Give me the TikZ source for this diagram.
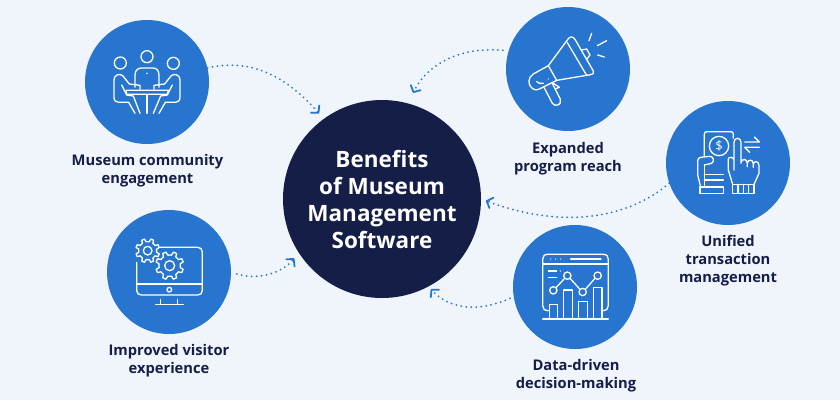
\documentclass[tikz,border=0pt]{standalone}
\usepackage{fontspec}
\setmainfont{Open Sans}
\usetikzlibrary{arrows.meta}
\definecolor{bgc}{HTML}{F0F5FC}
\definecolor{bluec}{HTML}{2775CE}
\definecolor{navyc}{HTML}{141E47}
\tikzset{
  disc/.style={circle,fill=bluec,minimum size=124pt,inner sep=0pt},
  hubdisc/.style={circle,fill=navyc,minimum size=198pt,inner sep=0pt,text=white,align=center,font=\bfseries\fontsize{22.5}{27}\selectfont},
  lab/.style={text=navyc,align=center,inner sep=0pt,font=\bfseries\fontsize{14.7}{18.3}\selectfont},
  flow/.style={draw=bluec,line width=2pt,line cap=round,dash pattern=on 0pt off 5pt,
    -{Straight Barb[length=5pt,width=11pt,line width=1.8pt,round=false]}},
  ico/.style={draw=white,line width=1.3pt,line cap=round,line join=round},
  zoomed/.style={x=0.3333pt,y=-0.3333pt}
}
\newcommand{\icogear}[5]{% x y outer inner teeth
  \begin{scope}[shift={(#1,#2)}]
    \pgfmathsetmacro{\gstep}{360/#5}
    \path[ico,fill=bluec] (0:#4)
      \foreach \gi in {1,...,#5}{
        -- ({(\gi-1)*\gstep+0.22*\gstep}:#4)
        -- ({(\gi-1)*\gstep+0.34*\gstep}:#3)
        -- ({(\gi-1)*\gstep+0.66*\gstep}:#3)
        -- ({(\gi-1)*\gstep+0.78*\gstep}:#4)
        -- ({\gi*\gstep}:#4)
      } -- cycle;
  \end{scope}
}
\begin{document}
\begin{tikzpicture}[x=1pt,y=-1pt]
\useasboundingbox (0,0) rectangle (840,400);
\fill[bgc] (0,0) rectangle (840,400);

\node[disc] (community) at (147,82) {};
\node[disc] (visitor) at (169,272) {};
\node[disc] (reach) at (568,69) {};
\node[disc] (transaction) at (728,163) {};
\node[disc] (data) at (575,287) {};
\node[hubdisc] (hub) at (382,199) {Benefits\\of Museum\\Management\\Software};

\node[lab] (lcommunity) at (147.5,170.5) {Museum community\\engagement};
\node[lab] (lvisitor) at (169,361) {Improved visitor\\experience};
\node[lab] (lreach) at (568,159) {Expanded\\program reach};
\node[lab] (ltransaction) at (728,260.5) {Unified\\transaction\\management};
\node[lab] (ldata) at (576,376) {Data-driven\\decision-making};

\draw[flow,shorten >=7pt] (community.13) .. controls (250,58) and (285,75) .. (hub.126.5);
\draw[flow,shorten <=6pt,shorten >=7pt] (visitor.0) .. controls (255,280) and (280,275) .. (hub.213.8);
\draw[flow,shorten <=5.7pt,shorten >=11.6pt] (reach.163.7) .. controls (465,47) and (430,60) .. (hub.75.3);
\draw[flow,shorten >=5pt] (transaction.199.6) .. controls (620,225) and (550,225) .. (hub.0);
\draw[flow,shorten <=4pt,shorten >=3.4pt] (data.189.6) .. controls (480,312) and (450,310) .. (hub.-62.7);

% community icon
\begin{scope}[shift={(70,10)},zoomed]
  \draw[ico] (231,140) circle (18) (151,159) circle (18) (310,160) circle (18);
  \draw[ico] (195,232) -- (195,195) .. controls (195,180) and (205,174) .. (215,174) -- (248,174) .. controls (258,174) and (267,180) .. (267,195) -- (267,232);
  \fill[white] (231,190) circle (2.5);
  \draw[ico] (168,241) -- (295,241) (170,253) -- (292,253) (168,241) -- (170,253) (295,241) -- (292,253);
  \draw[ico] (231,255) -- (231,310);
  \draw[ico] (210,238) -- (210,226) -- (178,222) -- (158,197) .. controls (150,190) and (132,192) .. (132,212) -- (132,262) .. controls (132,272) and (138,277) .. (146,277) -- (176,277) -- (195,310);
  \draw[ico] (155,225) -- (170,255) -- (190,258) -- (210,310);
  \draw[ico] (252,238) -- (252,226) -- (284,222) -- (304,197) .. controls (312,190) and (330,192) .. (330,212) -- (330,262) .. controls (330,272) and (324,277) .. (316,277) -- (286,277) -- (267,310);
  \draw[ico] (307,225) -- (292,255) -- (272,258) -- (250,310);
\end{scope}

% visitor icon
\begin{scope}[shift={(95,205)},zoomed]
  \draw[ico] (195,127) -- (308,127) .. controls (317,127) and (322,132) .. (322,141) -- (322,256) .. controls (322,265) and (317,270) .. (308,270) -- (139,270) .. controls (130,270) and (125,265) .. (125,256) -- (125,172);
  \draw[ico] (125,237) -- (322,237);
  \draw[ico] (223,254) circle (7);
  \draw[ico] (197,283) -- (197,298) (248,283) -- (248,298) (182,299) -- (265,299);
  \icogear{158}{137}{36}{27}{8}
  \draw[ico] (158,137) circle (13);
  \icogear{224}{182}{42}{32}{8}
  \draw[ico] (224,182) circle (15);
\end{scope}

% reach icon
\begin{scope}[shift={(495,0)},zoomed]
  \draw[ico] (160,197) -- (217,120) .. controls (224,108) and (234,108) .. (240,118) -- (295,213) .. controls (298,220) and (293,224) .. (287,224) -- (185,241);
  \draw[ico] (217,128) -- (275,226);
  \draw[ico] (160,197) -- (115,222) .. controls (98,232) and (100,252) .. (107,260) .. controls (114,270) and (125,272) .. (135,266) -- (185,241) -- (160,197);
  \draw[ico] (147,262) -- (172,310) .. controls (180,322) and (202,315) .. (196,298) -- (172,250);
  \draw[ico] (175,250) -- (193,262) -- (183,266);
  \draw[ico] (260,150) -- (275,147) -- (285,165) -- (275,178);
  \draw[ico] (290,100) -- (282,122) (335,122) -- (307,137) (328,171) -- (308,165);
  \draw[ico] (125,245) .. controls (130,250) and (138,252) .. (145,250);
  \fill[white] (160,237) circle (2);
\end{scope}

% transaction icon
\begin{scope}[shift={(660,95)},zoomed]
  \draw[ico] (133,185) -- (133,118) .. controls (133,112) and (136,110) .. (141,110) -- (212,110) .. controls (218,110) and (220,113) .. (220,118) -- (220,130);
  \draw[ico] (177,153) circle (29);
  \node[inner sep=0pt,text=white,font=\fontsize{13}{13}\selectfont] (dollar) at (177,153) {\$};
  \draw[ico] (133,210) -- (155,205) .. controls (165,198) and (160,183) .. (148,184) -- (122,187) .. controls (116,188) and (113,192) .. (113,198) -- (113,240) -- (122,276);
  \draw[ico] (133,210) -- (133,276);
  \draw[ico] (133,238) -- (190,238) (133,255) -- (190,255);
  \draw[ico] (120,276) -- (190,276) -- (190,295) -- (120,295) -- cycle;
  \draw[ico] (218,268) -- (205,225) -- (205,192) .. controls (205,185) and (220,185) .. (222,195)
     (222,225) -- (222,142) .. controls (222,126) and (243,126) .. (243,142) -- (243,205)
     (243,203) .. controls (245,190) and (262,190) .. (262,205) -- (262,215)
     (262,205) .. controls (264,192) and (280,192) .. (280,207) -- (280,217)
     (280,207) .. controls (282,197) and (297,197) .. (297,212) -- (297,235) -- (282,268);
  \draw[ico] (218,268) -- (282,268) -- (282,295) -- (218,295) -- cycle;
  \draw[ico] (234,268) -- (234,295) (250,268) -- (250,295) (266,268) -- (266,295);
  \draw[ico] (254,141) -- (298,141) -- (283,126);
  \draw[ico] (298,157) -- (254,157) -- (269,172);
\end{scope}

% data icon
\begin{scope}[shift={(505,215)},zoomed]
  \draw[ico] (130,287) .. controls (118,287) and (113,280) .. (113,272) -- (113,133) .. controls (113,124) and (118,118) .. (128,118) -- (295,118) .. controls (305,118) and (310,124) .. (310,133) -- (310,272) .. controls (310,280) and (305,287) .. (293,287);
  \draw[ico] (113,147) -- (310,147);
  \fill[white] (137,132) circle (2) (152,132) circle (2) (167,132) circle (2) (166,168) circle (2);
  \draw[ico] (197,132) -- (288,132) (130,168) -- (155,168) (130,187) -- (155,187);
  \draw[ico] (153,218) -- (179,190) (195,190) -- (225,223) (241,223) -- (270,190);
  \draw[ico] (145,226) circle (11) (187,182) circle (11) (233,231) circle (11) (278,182) circle (11);
  \draw[ico] (133,312) -- (133,268) -- (158,268) -- (158,312);
  \draw[ico] (175,312) -- (175,225) -- (203,225) -- (203,312);
  \draw[ico] (220,312) -- (220,259) -- (248,259) -- (248,312);
  \draw[ico] (265,312) -- (265,218) -- (291,218) -- (291,312);
  \draw[ico] (113,312) -- (310,312);
\end{scope}
\end{tikzpicture}
\end{document}
